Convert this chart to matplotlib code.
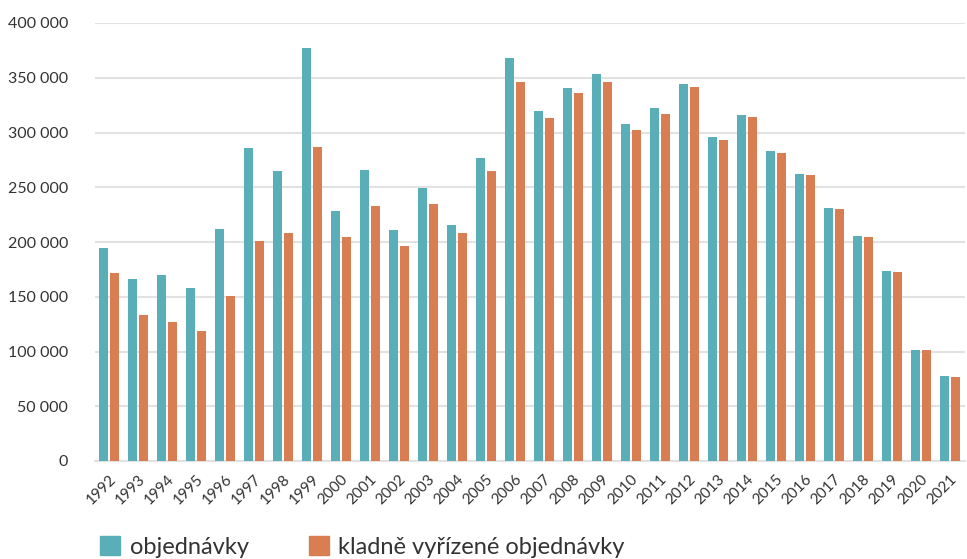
import numpy as np
from matplotlib import pyplot as plt
from matplotlib.patches import Patch

plt.rcParams['font.family'] = ['Lato', 'DejaVu Sans']

# data
years = [str(y) for y in range(1992, 2022)]
objednavky = [194500, 166000, 170000, 158000, 212000, 285800, 264800, 377200, 228300, 265800,
              211000, 249300, 215500, 276700, 368000, 319600, 340600, 353400, 307800, 322400,
              344300, 295900, 316000, 283100, 262100, 231000, 205500, 173500, 101400, 77600]
kladne = [171700, 133300, 127000, 118700, 150700, 200900, 208200, 286800, 204600, 232900,
          196300, 234700, 208200, 264800, 346100, 313200, 336100, 346100, 302300, 316900,
          341600, 293200, 314200, 281300, 261200, 230100, 204600, 172600, 101400, 76700]
series_names = ["objednávky", "kladně vyřízené objednávky"]
colors = ["#5aaeb7", "#d97e52"]
yticks = [0, 50000, 100000, 150000, 200000, 250000, 300000, 350000, 400000]

W, H = 967, 559
fig = plt.figure(figsize=(W / 100, H / 100), dpi=100)
ax = fig.add_axes([94.5 / W, 1 - 461 / H, 870 / W, 438 / H])

x = np.arange(len(years))
w = 0.31
ax.bar(x - 0.19, objednavky, width=w, color=colors[0], zorder=3)
ax.bar(x + 0.19, kladne, width=w, color=colors[1], zorder=3)

ax.set_xlim(-0.5, len(years) - 0.5)
ax.set_ylim(0, 400000)
ax.set_yticks(yticks)
ax.set_yticklabels(["{:,}".format(v).replace(",", " ") for v in yticks],
                   fontsize=11.5, color="#333333")
ax.yaxis.grid(True, color="#e2e2e2", linewidth=1.5, zorder=0)
ax.tick_params(axis='y', length=0, pad=19)

ax.set_xticks(x)
ax.set_xticklabels(years, rotation=45, ha='right', rotation_mode='anchor',
                   fontsize=11, color="#333333")
ax.tick_params(axis='x', length=0, pad=8)

for s in ['top', 'right', 'left']:
    ax.spines[s].set_visible(False)
ax.spines['bottom'].set_color("#e2e2e2")
ax.spines['bottom'].set_linewidth(1.5)

handles = [Patch(color=c, label=n) for c, n in zip(colors, series_names)]
fig.legend(handles=handles, loc='lower left', bbox_to_anchor=(79 / W, -0.036), ncol=2,
           frameon=False, fontsize=17, handlelength=0.85, handleheight=0.85,
           handletextpad=0.4, columnspacing=2.55, labelcolor="#333333")

plt.savefig("out.png", dpi=100)
